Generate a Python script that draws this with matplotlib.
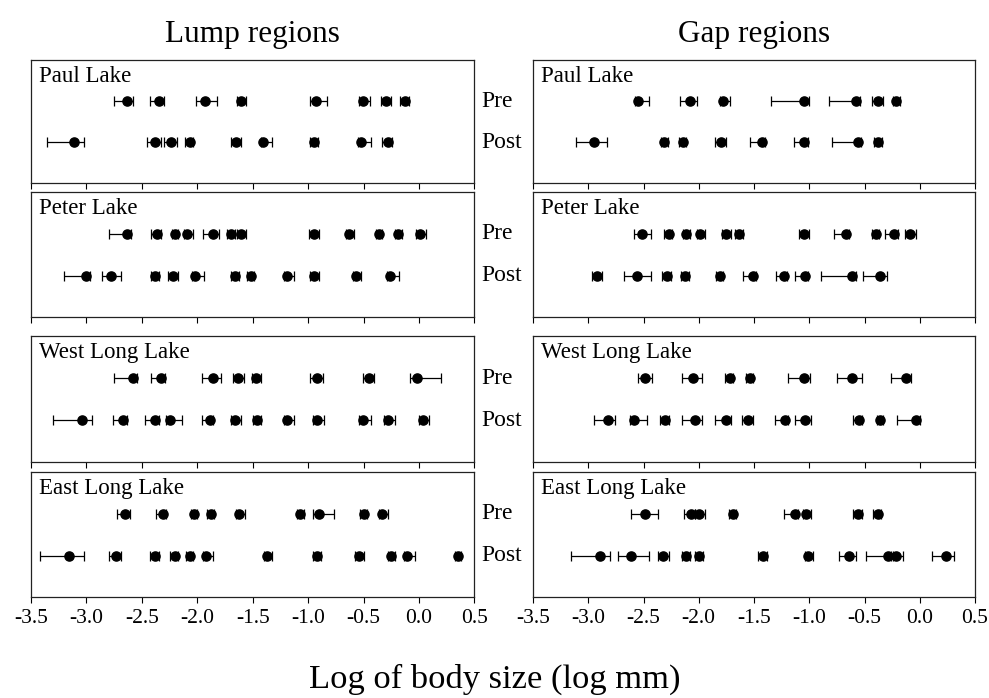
import numpy as np
import matplotlib
matplotlib.use("Agg")
import matplotlib.pyplot as plt

plt.rcParams['font.family'] = ['Liberation Serif', 'DejaVu Serif']

lakes = ["Paul Lake", "Peter Lake", "West Long Lake", "East Long Lake"]
region_titles = ["Lump regions", "Gap regions"]
row_labels = ["Pre", "Post"]
xticks = [-3.5, -3.0, -2.5, -2.0, -1.5, -1.0, -0.5, 0.0, 0.5]

# ---- Lump regions ----
paul_lump_pre = [-2.63, -2.35, -1.93, -1.61, -0.93, -0.51, -0.30, -0.13]
paul_lump_pre_lo = [-2.75, -2.43, -2.01, -1.64, -0.98, -0.54, -0.34, -0.17]
paul_lump_pre_hi = [-2.58, -2.30, -1.82, -1.56, -0.83, -0.44, -0.25, -0.09]
paul_lump_post = [-3.11, -2.38, -2.24, -2.07, -1.65, -1.41, -0.95, -0.52, -0.28]
paul_lump_post_lo = [-3.36, -2.45, -2.30, -2.11, -1.70, -1.43, -0.98, -0.55, -0.33]
paul_lump_post_hi = [-3.02, -2.33, -2.18, -2.04, -1.61, -1.33, -0.91, -0.43, -0.24]

peter_lump_pre = [-2.63, -2.36, -2.20, -2.09, -1.86, -1.70, -1.61, -0.95, -0.63, -0.36, -0.19, 0.01]
peter_lump_pre_lo = [-2.80, -2.42, -2.23, -2.12, -1.95, -1.73, -1.64, -0.99, -0.66, -0.39, -0.22, -0.03]
peter_lump_pre_hi = [-2.60, -2.33, -2.17, -2.04, -1.80, -1.66, -1.56, -0.90, -0.59, -0.33, -0.15, 0.06]
peter_lump_post = [-3.00, -2.78, -2.38, -2.22, -2.02, -1.66, -1.52, -1.19, -0.95, -0.57, -0.26]
peter_lump_post_lo = [-3.20, -2.86, -2.42, -2.26, -2.05, -1.70, -1.55, -1.22, -0.98, -0.60, -0.29]
peter_lump_post_hi = [-2.97, -2.69, -2.35, -2.17, -1.94, -1.62, -1.49, -1.13, -0.90, -0.52, -0.18]

west_lump_pre = [-2.58, -2.33, -1.86, -1.63, -1.47, -0.92, -0.455, -0.02]
west_lump_pre_lo = [-2.75, -2.42, -1.96, -1.68, -1.51, -0.98, -0.51, -0.08]
west_lump_pre_hi = [-2.54, -2.29, -1.79, -1.58, -1.43, -0.87, -0.41, 0.20]
west_lump_post = [-3.04, -2.67, -2.38, -2.25, -1.89, -1.66, -1.46, -1.19, -0.92, -0.51, -0.28, 0.04]
west_lump_post_lo = [-3.30, -2.76, -2.47, -2.28, -1.96, -1.70, -1.50, -1.22, -0.96, -0.54, -0.32, 0.00]
west_lump_post_hi = [-2.95, -2.63, -2.35, -2.14, -1.86, -1.61, -1.43, -1.13, -0.86, -0.43, -0.22, 0.09]

east_lump_pre = [-2.65, -2.31, -2.03, -1.88, -1.62, -1.07, -0.90, -0.50, -0.33]
east_lump_pre_lo = [-2.72, -2.37, -2.06, -1.91, -1.65, -1.10, -0.96, -0.53, -0.36]
east_lump_pre_hi = [-2.61, -2.28, -2.00, -1.85, -1.57, -1.04, -0.77, -0.47, -0.28]
east_lump_post = [-3.16, -2.73, -2.38, -2.20, -2.07, -1.92, -1.37, -0.92, -0.54, -0.25, -0.11, 0.35]
east_lump_post_lo = [-3.42, -2.80, -2.43, -2.25, -2.10, -1.95, -1.40, -0.96, -0.58, -0.28, -0.14, 0.32]
east_lump_post_hi = [-3.02, -2.69, -2.35, -2.17, -2.04, -1.86, -1.33, -0.88, -0.50, -0.22, -0.04, 0.38]

# ---- Gap regions ----
paul_gap_pre = [-2.55, -2.08, -1.78, -1.045, -0.58, -0.38, -0.215]
paul_gap_pre_lo = [-2.58, -2.17, -1.81, -1.35, -0.82, -0.43, -0.24]
paul_gap_pre_hi = [-2.45, -2.02, -1.72, -1.00, -0.54, -0.33, -0.18]
paul_gap_post = [-2.95, -2.31, -2.145, -1.80, -1.43, -1.05, -0.56, -0.38]
paul_gap_post_lo = [-3.11, -2.34, -2.175, -1.85, -1.54, -1.14, -0.79, -0.41]
paul_gap_post_hi = [-2.83, -2.28, -2.115, -1.75, -1.40, -1.01, -0.53, -0.34]

peter_gap_pre = [-2.51, -2.27, -2.115, -1.99, -1.75, -1.64, -1.05, -0.67, -0.40, -0.23, -0.09]
peter_gap_pre_lo = [-2.59, -2.31, -2.145, -2.02, -1.79, -1.67, -1.09, -0.78, -0.43, -0.31, -0.13]
peter_gap_pre_hi = [-2.43, -2.24, -2.08, -1.94, -1.71, -1.60, -1.00, -0.64, -0.37, -0.20, -0.03]
peter_gap_post = [-2.92, -2.56, -2.29, -2.12, -1.81, -1.51, -1.23, -1.04, -0.61, -0.36]
peter_gap_post_lo = [-2.97, -2.68, -2.33, -2.16, -1.84, -1.60, -1.30, -1.13, -0.89, -0.51]
peter_gap_post_hi = [-2.88, -2.43, -2.25, -2.09, -1.78, -1.48, -1.20, -1.01, -0.58, -0.30]

west_gap_pre = [-2.49, -2.05, -1.72, -1.54, -1.045, -0.61, -0.125]
west_gap_pre_lo = [-2.55, -2.15, -1.76, -1.57, -1.19, -0.75, -0.26]
west_gap_pre_hi = [-2.42, -1.97, -1.69, -1.51, -0.99, -0.52, -0.08]
west_gap_post = [-2.82, -2.59, -2.305, -2.03, -1.75, -1.55, -1.22, -1.04, -0.55, -0.36, -0.03]
west_gap_post_lo = [-2.95, -2.62, -2.35, -2.15, -1.85, -1.61, -1.31, -1.13, -0.60, -0.39, -0.21]
west_gap_post_hi = [-2.76, -2.47, -2.27, -1.97, -1.71, -1.51, -1.19, -0.98, -0.52, -0.33, 0.00]

east_gap_pre = [-2.49, -2.07, -2.00, -1.69, -1.13, -1.03, -0.56, -0.38]
east_gap_pre_lo = [-2.61, -2.13, -2.03, -1.73, -1.23, -1.06, -0.60, -0.42]
east_gap_pre_hi = [-2.37, -2.03, -1.94, -1.66, -1.10, -0.98, -0.52, -0.35]
east_gap_post = [-2.89, -2.61, -2.32, -2.115, -2.00, -1.42, -1.01, -0.64, -0.29, -0.215, 0.24]
east_gap_post_lo = [-3.16, -2.73, -2.37, -2.15, -2.03, -1.46, -1.04, -0.73, -0.49, -0.245, 0.11]
east_gap_post_hi = [-2.80, -2.45, -2.27, -2.08, -1.96, -1.38, -0.97, -0.58, -0.26, -0.15, 0.31]

lump = [
    [(paul_lump_pre, paul_lump_pre_lo, paul_lump_pre_hi), (paul_lump_post, paul_lump_post_lo, paul_lump_post_hi)],
    [(peter_lump_pre, peter_lump_pre_lo, peter_lump_pre_hi), (peter_lump_post, peter_lump_post_lo, peter_lump_post_hi)],
    [(west_lump_pre, west_lump_pre_lo, west_lump_pre_hi), (west_lump_post, west_lump_post_lo, west_lump_post_hi)],
    [(east_lump_pre, east_lump_pre_lo, east_lump_pre_hi), (east_lump_post, east_lump_post_lo, east_lump_post_hi)],
]
gap = [
    [(paul_gap_pre, paul_gap_pre_lo, paul_gap_pre_hi), (paul_gap_post, paul_gap_post_lo, paul_gap_post_hi)],
    [(peter_gap_pre, peter_gap_pre_lo, peter_gap_pre_hi), (peter_gap_post, peter_gap_post_lo, peter_gap_post_hi)],
    [(west_gap_pre, west_gap_pre_lo, west_gap_pre_hi), (west_gap_post, west_gap_post_lo, west_gap_post_hi)],
    [(east_gap_pre, east_gap_pre_lo, east_gap_pre_hi), (east_gap_post, east_gap_post_lo, east_gap_post_hi)],
]
regions = [lump, gap]

W, H = 989, 698
fig = plt.figure(figsize=(W / 100, H / 100), dpi=100)

col_px = [(31, 474.5), (533, 975)]
row_px = [(60, 183), (192, 317), (336, 462), (472, 597)]
row_y = [0.665, 0.33]

axes = {}
for c, (x0, x1) in enumerate(col_px):
    for r, (y0, y1) in enumerate(row_px):
        ax = fig.add_axes([x0 / W, 1 - y1 / H, (x1 - x0) / W, (y1 - y0) / H])
        axes[(r, c)] = ax
        for k, (xs, lo, hi) in enumerate(regions[c][r]):
            xs = np.array(xs)
            lo = np.array(lo)
            hi = np.array(hi)
            yy = np.full(len(xs), row_y[k])
            ax.errorbar(xs, yy, xerr=[xs - lo, hi - xs], fmt='o', color='black',
                        ms=6.6, elinewidth=0.9, capsize=3.6, capthick=0.9,
                        mec='black', mfc='black')
        ax.set_xlim(-3.5, 0.5)
        ax.set_ylim(0, 1)
        ax.set_yticks([])
        ax.set_xticks(xticks)
        ax.tick_params(axis='x', direction='out', length=4.5, width=0.8,
                       labelsize=15.5, pad=4, colors='black')
        if r == 3:
            ax.set_xticklabels(["%.1f" % v for v in xticks])
        else:
            ax.set_xticklabels([])
        for s in ax.spines.values():
            s.set_linewidth(0.9)
            s.set_color('#222222')
        ax.annotate(lakes[r], xy=(0, 1), xycoords='axes fraction',
                    xytext=(6, -4), textcoords='offset points',
                    ha='left', va='top', fontsize=16.5)
        if r == 0:
            ax.set_title(region_titles[c], fontsize=22.5, pad=13)

# Pre / Post labels between columns
for r in range(4):
    ax = axes[(r, 0)]
    for k, lab in enumerate(row_labels):
        ax.annotate(lab, xy=(1, row_y[k]), xycoords='axes fraction',
                    xytext=(5, 0), textcoords='offset points',
                    ha='left', va='center', fontsize=17)

fig.text(0.5, 1 - 679 / H, "Log of body size (log mm)", ha='center', va='center',
         fontsize=24.8)

fig.savefig("out.png", dpi=100)
